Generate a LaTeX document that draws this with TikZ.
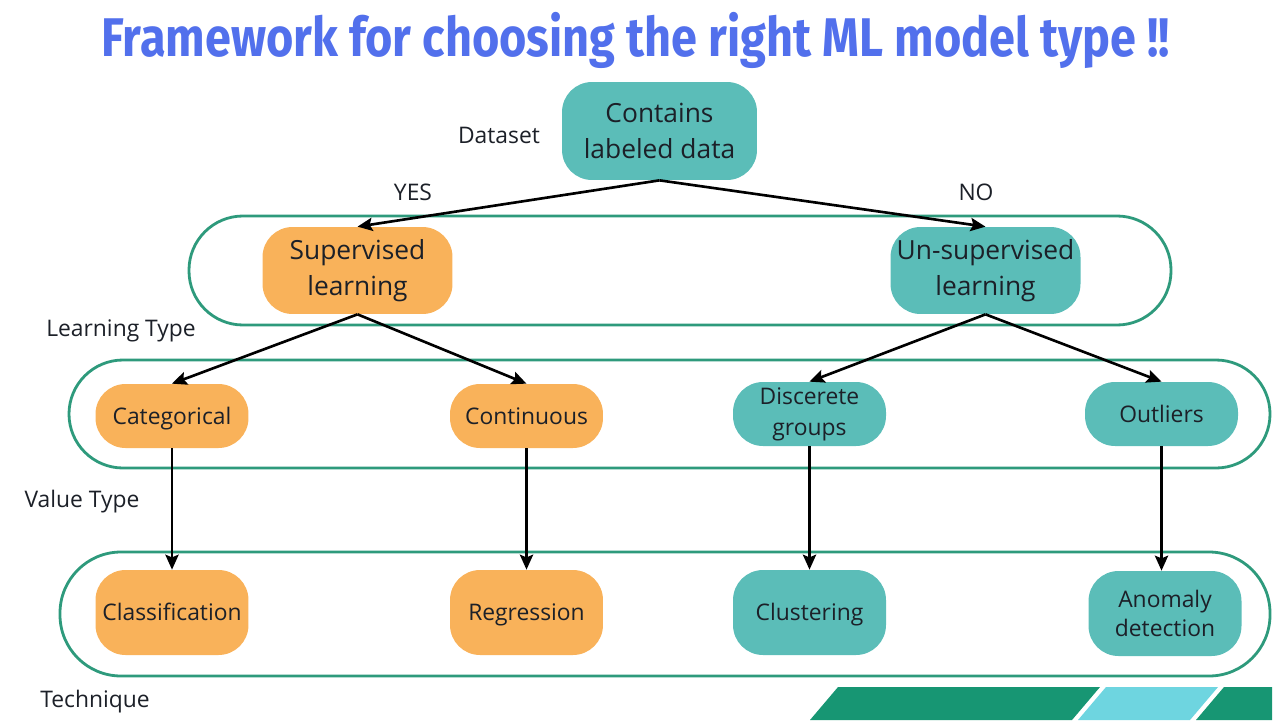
\documentclass[tikz,border=0pt]{standalone}
\usepackage{fontspec}
\setmainfont{Open Sans}
\newfontfamily\titlefont{Fira Sans}[FakeStretch=0.86]
\usetikzlibrary{arrows.meta}

\definecolor{tealbox}{RGB}{91,189,184}
\definecolor{orangebox}{RGB}{249,178,90}
\definecolor{ringgreen}{RGB}{46,154,124}
\definecolor{titleblue}{RGB}{82,112,236}
\definecolor{stripgreen}{RGB}{23,150,115}
\definecolor{stripcyan}{RGB}{110,213,224}
\definecolor{inkdark}{RGB}{28,32,40}

\begin{document}
\begin{tikzpicture}[x = 0.02cm, y = -0.02cm,
  pill/.style = {inner sep = 0, align = center, text = inkdark, rounded corners = 0.6cm},
  tealpill/.style = {pill, fill = tealbox},
  orangepill/.style = {pill, fill = orangebox},
  oneline/.style = {text height = 12.6pt, text depth = 3pt},
  toppill/.style = {minimum width = 3.9cm, minimum height = 1.96cm, font = \fontsize{15}{20}\selectfont},
  bigpill/.style = {minimum width = 3.8cm, minimum height = 1.74cm, font = \fontsize{15}{20.5}\selectfont},
  midpill/.style = {minimum width = 3.06cm, minimum height = 1.28cm, font = \fontsize{13}{17.5}\selectfont},
  lowpill/.style = {minimum width = 3.06cm, minimum height = 1.7cm, font = \fontsize{13}{16.5}\selectfont},
  ring/.style = {draw = ringgreen, line width = 1.6pt, rounded corners = 1.08cm},
  tag/.style = {text = inkdark, font = \fontsize{13}{16}\selectfont},
  link/.style = {draw = black, line width = 1.5pt, -{Stealth[length = 8.5pt, width = 7.5pt, inset = 1.5pt]}}]

\useasboundingbox (0, 0) rectangle (1280, 720);

\node (title) at (636, 40) {\titlefont\bfseries\fontsize{31}{36}\selectfont\color{titleblue}Framework for choosing the right ML model type !!};

\draw[ring] (189, 216) rectangle (1171, 325);
\draw[ring] (69, 360) rectangle (1270, 468);
\draw[ring, rounded corners = 1.22cm] (60, 552) rectangle (1270, 676);

\node[tealpill, toppill] (data) at (659.5, 131) {Contains\\labeled data};

\node[orangepill, bigpill] (sup) at (357.5, 270.5) {Supervised\\learning};
\node[tealpill, bigpill] (unsup) at (985.5, 270.5) {Un-supervised\\learning};

\node[orangepill, midpill, oneline] (cat) at (172, 416) {Categorical};
\node[orangepill, midpill, oneline] (cont) at (526.5, 416) {Continuous};
\node[tealpill, midpill] (groups) at (809.5, 414) {Discerete\\groups};
\node[tealpill, midpill, oneline] (outl) at (1161.5, 414) {Outliers};

\node[orangepill, lowpill, oneline] (classif) at (172, 612.5) {Classification};
\node[orangepill, lowpill, oneline] (regr) at (526.5, 612.5) {Regression};
\node[tealpill, lowpill, oneline] (clust) at (809.5, 612.5) {Clustering};
\node[tealpill, lowpill] (anom) at (1165, 613.5) {Anomaly\\detection};

\node[tag] (dataset) at (499, 135) {Dataset};
\node[tag] (yes) at (413, 192) {YES};
\node[tag] (no) at (976, 192) {NO};
\node[tag] (ltype) at (121, 331) {Learning Type};
\node[tag] (vtype) at (82, 502) {Value Type};
\node[tag] (tech) at (95, 702) {Technique};

\draw[link] (data.south) to (sup.north);
\draw[link] (data.south) to (unsup.north);

\draw[link] (sup.south) to (cat.north);
\draw[link] (sup.south) to (cont.north);
\draw[link] (unsup.south) to (groups.north);
\draw[link] (unsup.south) to (outl.north);

\draw[link] (cat.south) to (classif.north);
\draw[link] (cont.south) to (regr.north);
\draw[link] (groups.south) to (clust.north);
\draw[link] (outl.south) to (outl.south |- anom.north);

\fill[stripgreen] (810, 720) -- (838, 687) -- (1100, 687) -- (1072, 720) -- cycle;
\fill[stripcyan] (1078, 720) -- (1106, 687) -- (1218, 687) -- (1190, 720) -- cycle;
\fill[stripgreen] (1196, 720) -- (1224, 687) -- (1272, 687) -- (1272, 720) -- cycle;

\end{tikzpicture}
\end{document}
